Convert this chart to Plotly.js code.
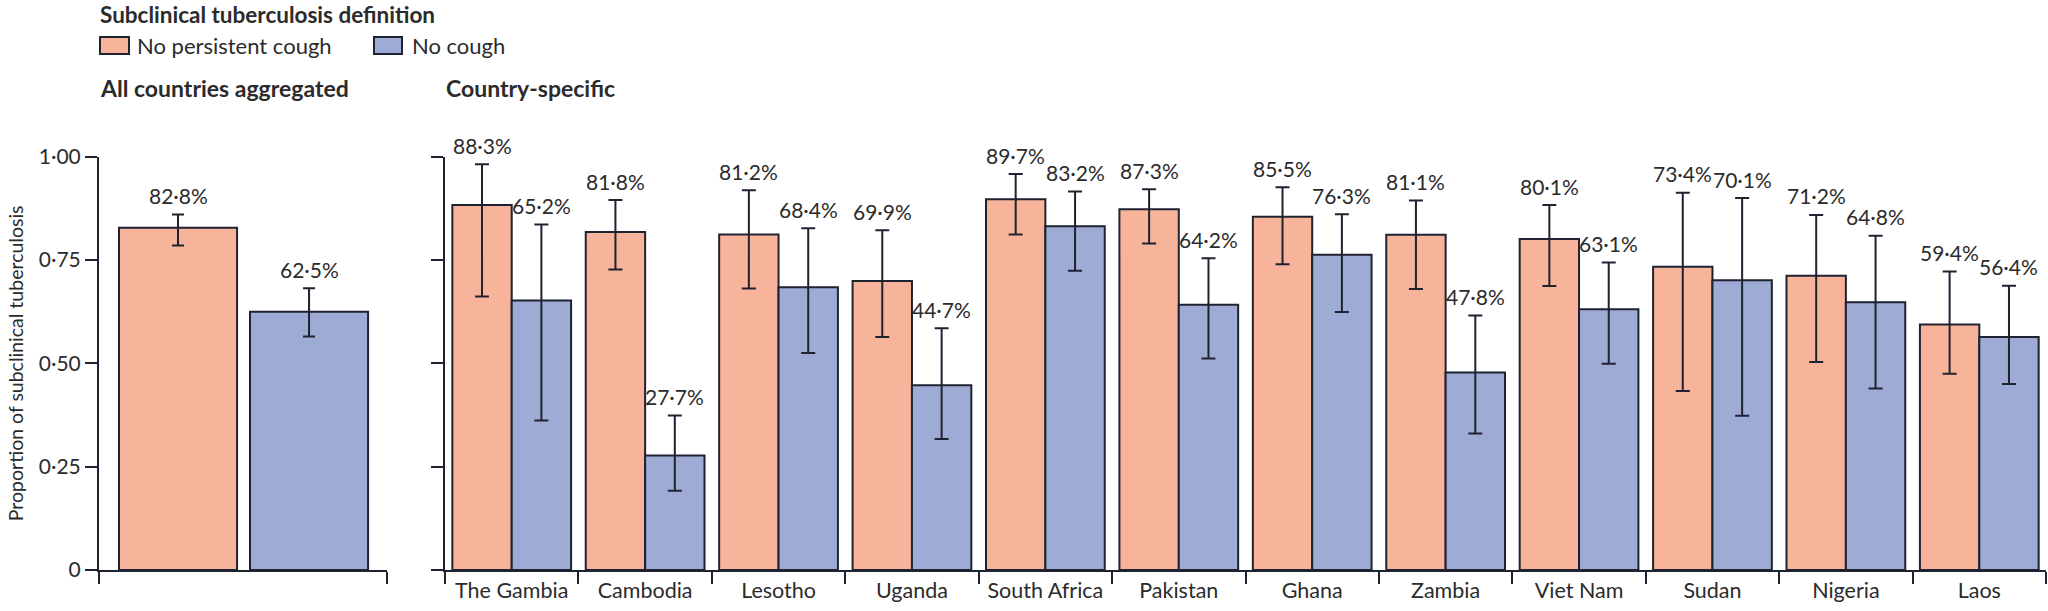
<!DOCTYPE html>
<html>
<head>
<meta charset="utf-8">
<script src="https://cdn.plot.ly/plotly-3.0.1.min.js"></script>
<style>html,body{margin:0;padding:0;background:#fff;}#chart{width:2048px;height:611px;}</style>
</head>
<body>
<div id="chart"></div>
<script>
// ---- data ----
const seriesNames = ['No persistent cough', 'No cough'];
const legendTitle = 'Subclinical tuberculosis definition';
const panelTitles = ['All countries aggregated', 'Country-specific'];
const yTitle = 'Proportion of subclinical tuberculosis';

const aggCategory = ['All countries'];
const aggPersistent = [0.828];
const aggPersistentLo = [0.785];
const aggPersistentHi = [0.860];
const aggNoCough = [0.625];
const aggNoCoughLo = [0.565];
const aggNoCoughHi = [0.682];

const countries = ['The Gambia', 'Cambodia', 'Lesotho', 'Uganda', 'South Africa', 'Pakistan',
                   'Ghana', 'Zambia', 'Viet Nam', 'Sudan', 'Nigeria', 'Laos'];
const persistent   = [0.883, 0.818, 0.812, 0.699, 0.897, 0.873, 0.855, 0.811, 0.801, 0.734, 0.712, 0.594];
const persistentLo = [0.662, 0.727, 0.681, 0.564, 0.812, 0.790, 0.740, 0.680, 0.687, 0.433, 0.503, 0.475];
const persistentHi = [0.982, 0.895, 0.919, 0.822, 0.958, 0.921, 0.926, 0.894, 0.883, 0.913, 0.859, 0.722];
const noCough      = [0.652, 0.277, 0.684, 0.447, 0.832, 0.642, 0.763, 0.478, 0.631, 0.701, 0.648, 0.564];
const noCoughLo    = [0.362, 0.192, 0.525, 0.317, 0.724, 0.512, 0.624, 0.330, 0.499, 0.373, 0.439, 0.450];
const noCoughHi    = [0.836, 0.374, 0.827, 0.585, 0.916, 0.754, 0.861, 0.616, 0.744, 0.900, 0.809, 0.688];

const yTickVals = [0, 0.25, 0.5, 0.75, 1.0];
const yTickText = ['0', '0·25', '0·50', '0·75', '1·00'];

// ---- style ----
const ORANGE = '#F7B49B';
const BLUE = '#9EABD4';
const INK = '#1f2230';
const TEXT = '#2b2b2b';
const FONT = 'Lato, "Open Sans", "DejaVu Sans", sans-serif';
const FS = 21;

const fmt = v => (v * 100).toFixed(1).replace('.', '·') + '%';
const diff = (a, b) => a.map((v, i) => v - b[i]);

function barTrace(x, y, lo, hi, color, name, xa, ya, extra, capw) {
  return Object.assign({
    type: 'bar', x: x, y: y, name: name, xaxis: xa, yaxis: ya,
    marker: {color: color, line: {color: INK, width: 2}},
    error_y: {type: 'data', symmetric: false, array: diff(hi, y), arrayminus: diff(y, lo),
              color: INK, thickness: 2, width: capw},
    showlegend: false, hoverinfo: 'x+y'
  }, extra);
}

// left panel: custom width/offset within single category
const LW = 0.41;
const LOFF = [-0.4306, 0.0243];
const traces = [
  barTrace(aggCategory, aggPersistent, aggPersistentLo, aggPersistentHi, ORANGE, seriesNames[0], 'x', 'y', {width: LW, offset: LOFF[0]}, 6),
  barTrace(aggCategory, aggNoCough, aggNoCoughLo, aggNoCoughHi, BLUE, seriesNames[1], 'x', 'y', {width: LW, offset: LOFF[1]}, 6),
  barTrace(countries, persistent, persistentLo, persistentHi, ORANGE, seriesNames[0], 'x2', 'y2', {}, 7),
  barTrace(countries, noCough, noCoughLo, noCoughHi, BLUE, seriesNames[1], 'x2', 'y2', {}, 7)
];

const BARGAP = 0.11;
const half = (1 - BARGAP) / 4;

const annotations = [];
function valueLabel(x, y, val, xref, yref) {
  annotations.push({x: x, y: y, xref: xref, yref: yref, text: fmt(val), showarrow: false,
    xanchor: 'center', yanchor: 'middle', yshift: 19, font: {family: FONT, size: FS, color: TEXT}});
}
valueLabel(LOFF[0] + LW / 2, aggPersistentHi[0], aggPersistent[0], 'x', 'y');
valueLabel(LOFF[1] + LW / 2, aggNoCoughHi[0], aggNoCough[0], 'x', 'y');
countries.forEach((c, i) => {
  valueLabel(i - half, persistentHi[i], persistent[i], 'x2', 'y2');
  valueLabel(i + half, noCoughHi[i], noCough[i], 'x2', 'y2');
});

// headers & custom legend (paper coords)
const W = 2048, H = 611;
const px = x => x / W;
const py = y => 1 - y / H;
function label(text, x, y, bold, size) {
  annotations.push({x: px(x), y: py(y), xref: 'paper', yref: 'paper', text: bold ? '<b>' + text + '</b>' : text,
    showarrow: false, xanchor: 'left', yanchor: 'middle', font: {family: FONT, size: size, color: TEXT}});
}
label(legendTitle, 98, 15, true, 22.5);
label(seriesNames[0], 135, 46, false, 22);
label(seriesNames[1], 410, 46, false, 22);
label(panelTitles[0], 98, 88, true, 23);
label(panelTitles[1], 444, 88, true, 23);

const shapes = [
  {type: 'rect', xref: 'paper', yref: 'paper', x0: px(100), x1: px(129), y0: py(54), y1: py(37),
   fillcolor: ORANGE, line: {color: INK, width: 2}},
  {type: 'rect', xref: 'paper', yref: 'paper', x0: px(374), x1: px(402), y0: py(54), y1: py(37),
   fillcolor: BLUE, line: {color: INK, width: 2}}
];

const axisCommon = {showline: true, linecolor: INK, linewidth: 2, ticks: 'outside', ticklen: 12,
  tickwidth: 2, tickcolor: INK, showgrid: false, zeroline: false, fixedrange: true,
  tickfont: {family: FONT, size: FS, color: TEXT}};

const yDomain = [41 / H, (H - 156.7) / H];

const layout = {
  width: W, height: H,
  margin: {l: 0, r: 0, t: 0, b: 0},
  paper_bgcolor: '#fff', plot_bgcolor: '#fff',
  barmode: 'group', bargap: BARGAP, bargroupgap: 0,
  showlegend: false,
  font: {family: FONT, size: FS, color: TEXT},
  xaxis: Object.assign({}, axisCommon, {domain: [px(99), px(387)], anchor: 'y', type: 'category',
    range: [-0.5, 0.5], tickson: 'boundaries', showticklabels: false, automargin: false}),
  yaxis: Object.assign({}, axisCommon, {domain: yDomain, anchor: 'x', range: [0, 1.0],
    tickvals: yTickVals, ticktext: yTickText, automargin: false,
    title: {text: yTitle, standoff: 10, font: {family: FONT, size: 19.5, color: TEXT}}}),
  xaxis2: Object.assign({}, axisCommon, {domain: [px(445), px(2046)], anchor: 'y2', type: 'category',
    range: [-0.5, 11.5], tickson: 'boundaries', automargin: false,
    tickfont: {family: FONT, size: 21.5, color: TEXT}}),
  yaxis2: Object.assign({}, axisCommon, {domain: yDomain, anchor: 'x2', range: [0, 1.0],
    tickvals: yTickVals, showticklabels: false, automargin: false}),
  annotations: annotations,
  shapes: shapes
};

Plotly.newPlot('chart', traces, layout, {displayModeBar: false, staticPlot: true});
</script>
</body>
</html>
